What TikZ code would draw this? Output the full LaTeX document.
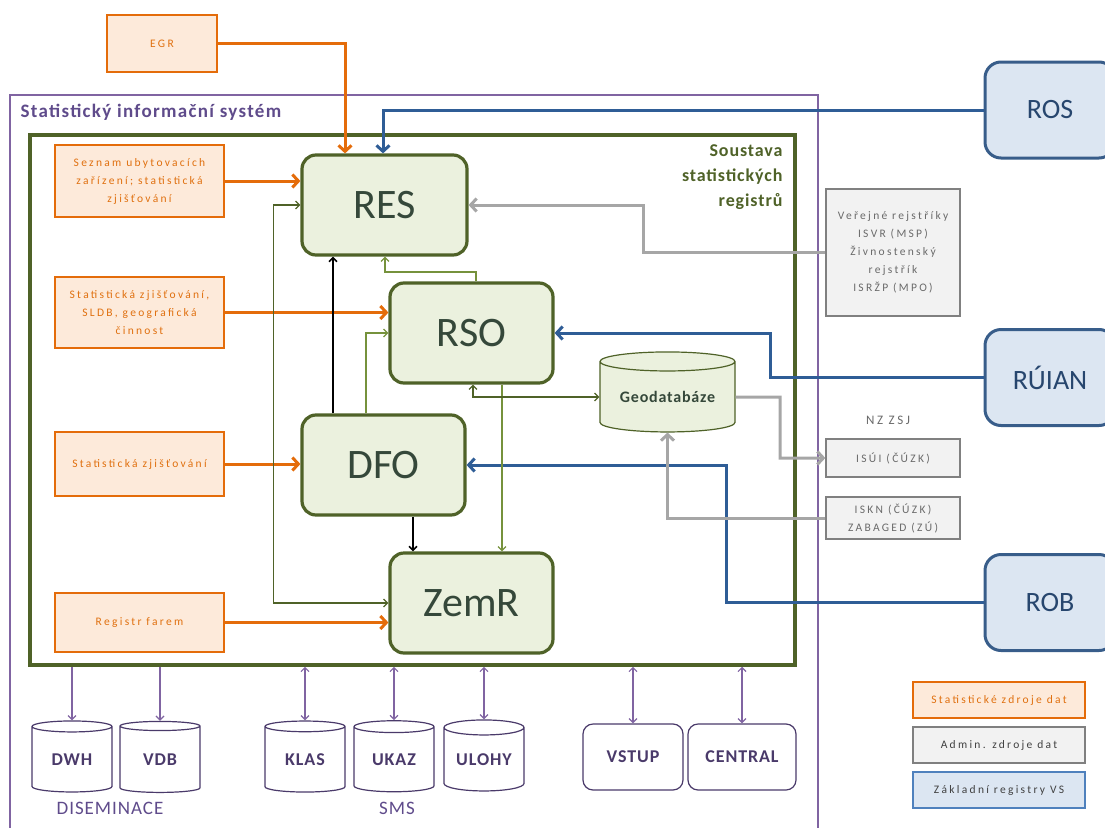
\documentclass[tikz,border=0pt]{standalone}
\usepackage{fontspec}
\setmainfont{Carlito}
\newfontfamily\spaced[LetterSpace=20]{Carlito}
\newfontfamily\spacedb[LetterSpace=7]{Carlito}
\newfontfamily\spacedc[LetterSpace=5]{Carlito}
\usetikzlibrary{arrows.meta,shapes.geometric}
\definecolor{orline}{HTML}{E46C0A}
\definecolor{orfill}{HTML}{FDEADA}
\definecolor{ortext}{HTML}{E0700F}
\definecolor{gline}{HTML}{4F6228}
\definecolor{gfill}{HTML}{EBF1DE}
\definecolor{gtext}{HTML}{35483A}
\definecolor{lgreen}{HTML}{76923C}
\definecolor{purp}{HTML}{8064A2}
\definecolor{purptext}{HTML}{5F4B8B}
\definecolor{purpdark}{HTML}{4A3A6A}
\definecolor{bline}{HTML}{385D8A}
\definecolor{lgblue}{HTML}{4F81BD}
\definecolor{bconn}{HTML}{2F5D96}
\definecolor{bfill}{HTML}{DCE6F2}
\definecolor{btext}{HTML}{27466E}
\definecolor{grline}{HTML}{808080}
\definecolor{grfill}{HTML}{F2F2F2}
\definecolor{grconn}{HTML}{A6A6A6}
\definecolor{grtext}{HTML}{6A6A6A}
\definecolor{soutext}{HTML}{4F6228}
\tikzset{
  smalltext/.style={font=\spaced\fontsize{11.5}{18}\selectfont},
  orbox/.style={draw=orline, fill=orfill, line width=1.6pt, inner sep=0pt, align=center, text=ortext, smalltext},
  admbox/.style={draw=grline, fill=grfill, line width=1.3pt, inner sep=0pt, align=center, text=grtext, smalltext},
  regbox/.style={draw=gline, fill=gfill, line width=3.2pt, rounded corners=14pt, inner sep=0pt,
     minimum width=163pt, minimum height=100pt, text=gtext, font=\fontsize{42}{44}\selectfont},
  zrbox/.style={draw=bline, fill=bfill, line width=3pt, rounded corners=16pt, inner sep=0pt,
     minimum width=130pt, minimum height=96pt, text=btext, font=\fontsize{28}{30}\selectfont},
  dbcyl/.style={cylinder, shape border rotate=90, aspect=0.27, draw=purpdark, line width=1.2pt, fill=white,
     inner sep=0pt, minimum width=80pt, minimum height=71pt, text=purpdark, font=\spacedc\bfseries\fontsize{18}{20}\selectfont},
  sysbox/.style={draw=purpdark, line width=1.2pt, rounded corners=10pt, fill=white, inner sep=0pt,
     minimum height=66pt, text=purpdark, font=\spacedc\bfseries\fontsize{18}{20}\selectfont},
  tip/.style={-{Straight Barb[length=6pt,width=13pt]}},
  orarr/.style={draw=orline, line width=3pt, tip},
  blarr/.style={draw=bconn, line width=3pt, tip},
  grarr/.style={draw=grconn, line width=3pt, tip},
  thinarr/.style={draw=gline, line width=1.2pt, -{Straight Barb[length=4pt,width=8pt]}},
  thinboth/.style={draw=gline, line width=1.2pt, {Straight Barb[length=4pt,width=8pt]}-{Straight Barb[length=4pt,width=8pt]}},
  blkarr/.style={draw=black, line width=1.6pt, -{Straight Barb[length=4pt,width=8pt]}},
  parr/.style={draw=purp, line width=1.2pt, -{Straight Barb[length=4pt,width=8pt]}},
  pboth/.style={draw=purp, line width=1.2pt, {Straight Barb[length=4pt,width=8pt]}-{Straight Barb[length=4pt,width=8pt]}},
}
\begin{document}
\begin{tikzpicture}[x=1pt,y=-1pt]
\useasboundingbox (0,0) rectangle (1105,827);
% frames
\draw[purp, line width=1.2pt] (10,830) -- (10,95) -- (818,95) -- (818,830);
\node[anchor=west, text=purptext, font=\spacedb\bfseries\fontsize{19}{21}\selectfont] (sis) at (17,112) {Statistický informační systém};
\node[draw=gline, line width=3.5pt, minimum width=765pt, minimum height=530pt, inner sep=0pt] (ssr) at (412.5,400) {};
\node[anchor=north east, align=right, text=soutext, font=\spacedc\bfseries\fontsize{18}{25}\selectfont] (ssrlbl) at (786,141) {Soustava\\statistických\\registrů};

% orange sources
\node[orbox, minimum width=110pt, minimum height=57pt] (egr) at (162,43.5) {EGR};
\node[orbox, minimum width=169pt, minimum height=72pt] (o1) at (139.5,181) {Seznam ubytovacích\\zařízení; statistická\\zjišťování};
\node[orbox, minimum width=169pt, minimum height=71pt] (o2) at (139.5,312.5) {Statistická zjišťování,\\SLDB, geografická\\činnost};
\node[orbox, minimum width=169pt, minimum height=64pt] (o3) at (139.5,464) {Statistická zjišťování};
\node[orbox, minimum width=169pt, minimum height=59pt] (o4) at (139.5,622.5) {Registr farem};

% registers
\node[regbox, minimum width=165pt] (res) at (384.5,205) {RES};
\node[regbox] (rso) at (471.5,333) {RSO};
\node[regbox] (dfo) at (383.5,465) {DFO};
\node[regbox] (zemr) at (471.5,603) {ZemR};

\node[cylinder, shape border rotate=90, aspect=0.2, draw=gline, line width=1.2pt, fill=gfill, inner sep=0pt,
   minimum width=135pt, minimum height=80pt, text=gtext, font=\spacedc\bfseries\fontsize{16}{18}\selectfont] (geo) at (667.5,397) {Geodatabáze};

% admin sources
\node[admbox, minimum width=134pt, minimum height=127pt] (ver) at (893,252.5) {Veřejné rejstříky\\ISVR (MSP)\\Živnostenský\\rejstřík\\ISRŽP (MPO)};
\node[text=grtext, font=\spaced\fontsize{13}{15}\selectfont] (nz) at (888,420) {NZ ZSJ};
\node[admbox, minimum width=134pt, minimum height=38pt] (isui) at (893,458) {ISÚI (ČÚZK)};
\node[admbox, minimum width=134pt, minimum height=42pt] (iskn) at (893,518) {ISKN (ČÚZK)\\ZABAGED (ZÚ)};

% base registers
\node[zrbox] (ros) at (1050,110) {ROS};
\node[zrbox] (ruian) at (1050,377.5) {RÚIAN};
\node[zrbox] (rob) at (1050,602.5) {ROB};

% legend
\node[orbox, minimum width=172pt, minimum height=36pt] (lg1) at (999,700) {Statistické zdroje dat};
\node[admbox, minimum width=172pt, minimum height=36pt, text=black!75] (lg2) at (999,745) {Admin. zdroje dat};
\node[draw=lgblue, fill=bfill, line width=1.6pt, inner sep=0pt, minimum width=172pt, minimum height=36pt, text=black!75, smalltext] (lg3) at (999,790) {Základní registry VS};

% bottom systems
\node[dbcyl] (dwh) at (72,759.5) {DWH};
\node[dbcyl] (vdb) at (160,759.5) {VDB};
\node[dbcyl] (klas) at (305,759.5) {KLAS};
\node[dbcyl] (ukaz) at (394,759.5) {UKAZ};
\node[dbcyl] (ulohy) at (484,759.5) {ULOHY};
\node[sysbox, minimum width=100pt] (vstup) at (633,757) {VSTUP};
\node[sysbox, minimum width=108pt] (central) at (742,757) {CENTRAL};
\node[text=purptext, font=\spacedc\fontsize{19}{21}\selectfont] (dis) at (110,808) {DISEMINACE};
\node[text=purptext, font=\spacedc\fontsize{19}{21}\selectfont] (sms) at (397,808) {SMS};

% orange connectors
\draw[orarr] (egr.east) -| (res.north -| 345,0);
\draw[orarr] (o1.east) -- (o1.east -| res.west);
\draw[orarr] (o2.east) -- (o2.east -| rso.west);
\draw[orarr] (o3.east) -- (o3.east -| dfo.west);
\draw[orarr] (o4.east) -- (o4.east -| zemr.west);

% blue connectors
\draw[blarr] (ros.west) -| (res.north -| 383,0);
\draw[blarr] (ruian.west) -- (770,377.5) |- (rso.east);
\draw[blarr] (rob.west) -- (726,602.5) |- (dfo.east);

% gray connectors
\draw[grarr] (ver.west) -- (643,252.5) |- (res.east);
\draw[grarr] (geo.east) -- (780,397) |- (isui.west);
\draw[grarr] (iskn.west) -| (geo.south);

% internal connectors
\draw[thinboth] (res.west) -- ++(-27,0) |- (zemr.west);
\draw[blkarr] (dfo.north -| 333,0) -- (res.south -| 333,0);
\draw[thinarr, draw=lgreen] (rso.north -| 476,0) -- (476,272) -| (res.south -| 385,0);
\draw[thinarr, draw=lgreen] (dfo.north -| 366,0) |- (rso.west);
\draw[blkarr] (dfo.south -| 413,0) -- (zemr.north -| 413,0);
\draw[thinarr, draw=lgreen] (rso.south -| 502,0) -- (zemr.north -| 502,0);
\draw[thinboth] (rso.south -| 473,0) |- (geo.west);

% bottom connectors
\draw[parr] (ssr.south -| dwh.north) -- (dwh.north);
\draw[parr] (ssr.south -| vdb.north) -- (vdb.north);
\draw[pboth] (ssr.south -| klas.north) -- (klas.north);
\draw[pboth] (ssr.south -| ukaz.north) -- (ukaz.north);
\draw[pboth] (ssr.south -| ulohy.north) -- (ulohy.north);
\draw[pboth] (ssr.south -| vstup.north) -- (vstup.north);
\draw[pboth] (ssr.south -| central.north) -- (central.north);
\end{tikzpicture}
\end{document}
